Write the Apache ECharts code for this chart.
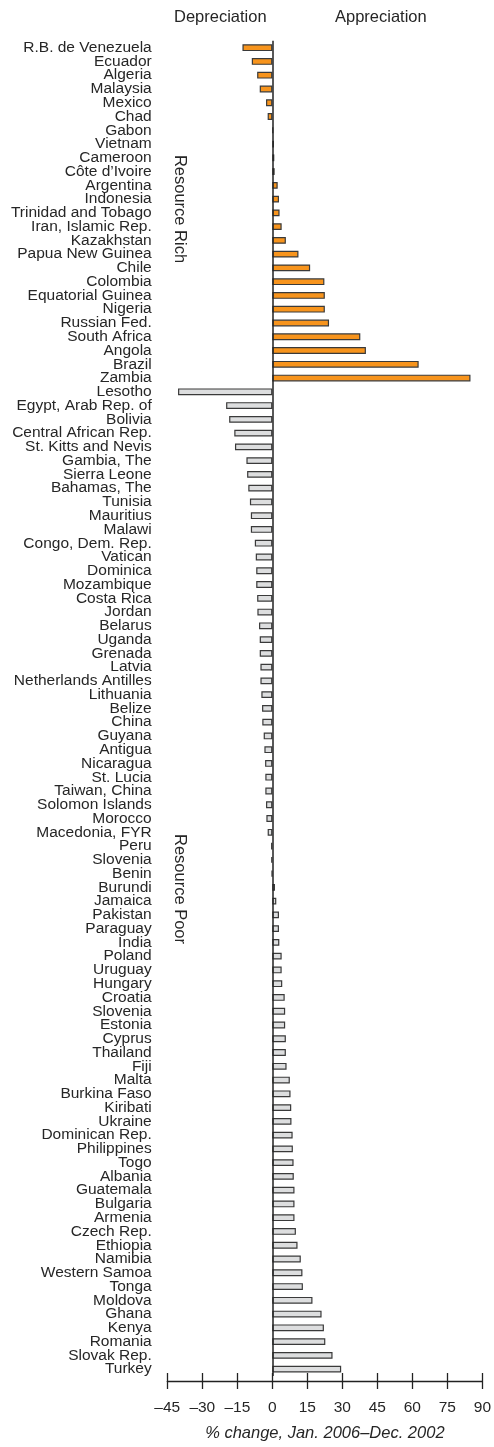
<!DOCTYPE html>
<html><head><meta charset="utf-8">
<script src="https://cdn.jsdelivr.net/npm/echarts@6/dist/echarts.min.js"></script>
<style>html,body{margin:0;padding:0;background:#fff}#c{width:494px;height:1447px}</style>
</head><body><div id="c"></div>
<script>
const richCountries = ["R.B. de Venezuela","Ecuador","Algeria","Malaysia","Mexico","Chad","Gabon","Vietnam","Cameroon","Côte d’Ivoire","Argentina","Indonesia","Trinidad and Tobago","Iran, Islamic Rep.","Kazakhstan","Papua New Guinea","Chile","Colombia","Equatorial Guinea","Nigeria","Russian Fed.","South Africa","Angola","Brazil","Zambia"];
const richValues = [-12.8,-8.8,-6.5,-5.4,-2.7,-2.0,0.4,0.7,0.85,1.0,2.3,2.85,3.1,4.0,5.8,11.2,16.2,22.3,22.5,22.5,24.3,37.7,40.1,62.7,84.9];
const poorCountries = ["Lesotho","Egypt, Arab Rep. of","Bolivia","Central African Rep.","St. Kitts and Nevis","Gambia, The","Sierra Leone","Bahamas, The","Tunisia","Mauritius","Malawi","Congo, Dem. Rep.","Vatican","Dominica","Mozambique","Costa Rica","Jordan","Belarus","Uganda","Grenada","Latvia","Netherlands Antilles","Lithuania","Belize","China","Guyana","Antigua","Nicaragua","St. Lucia","Taiwan, China","Solomon Islands","Morocco","Macedonia, FYR","Peru","Slovenia","Benin","Burundi","Jamaica","Pakistan","Paraguay","India","Poland","Uruguay","Hungary","Croatia","Slovenia","Estonia","Cyprus","Thailand","Fiji","Malta","Burkina Faso","Kiribati","Ukraine","Dominican Rep.","Philippines","Togo","Albania","Guatemala","Bulgaria","Armenia","Czech Rep.","Ethiopia","Namibia","Western Samoa","Tonga","Moldova","Ghana","Kenya","Romania","Slovak Rep.","Turkey"];
const poorValues = [-40.4,-19.8,-18.5,-16.3,-16.0,-11.1,-10.8,-10.3,-9.6,-9.2,-9.2,-7.5,-7.1,-6.9,-6.9,-6.5,-6.4,-5.7,-5.4,-5.4,-5.1,-5.1,-4.7,-4.4,-4.3,-3.7,-3.4,-3.1,-3.0,-3.0,-2.7,-2.55,-2.0,-0.55,-0.5,-0.3,1.15,1.7,2.85,2.85,3.0,4.0,4.0,4.25,5.3,5.5,5.5,5.8,5.8,6.1,7.5,7.8,8.1,8.2,8.7,8.8,9.1,9.2,9.5,9.5,9.5,10.1,10.8,12.2,12.9,13.1,17.2,21.1,22.1,22.7,25.8,29.5];
const xMin = -45, xMax = 90, xStep = 15;
const xAxisTitle = "% change, Jan. 2006–Dec. 2002";
const headerLeft = "Depreciation", headerRight = "Appreciation";
const groupLabels = ["Resource Rich", "Resource Poor"];

const categories = richCountries.concat(poorCountries);
const richData = richValues.concat(poorValues.map(() => '-'));
const poorData = richValues.map(() => '-').concat(poorValues);

const FONT = "'Liberation Sans', Arial, Helvetica, sans-serif";
const TXT = '#262626';
const GRID_TOP = 40.8, GRID_H = 1340.4, AX_OFF = 5;
const tickFmt = v => v < 0 ? '\u2013' + Math.abs(v) : String(v);

const chart = echarts.init(document.getElementById('c'), null, { renderer: 'canvas' });
chart.setOption({
  animation: false,
  backgroundColor: '#fff',
  grid: { left: 167.3, right: 9.3, top: GRID_TOP, height: GRID_H, containLabel: false },
  xAxis: [
    {
      type: 'value', position: 'bottom', offset: AX_OFF,
      min: xMin, max: xMax, interval: xStep,
      axisLine: { show: true, onZero: false, lineStyle: { color: '#222', width: 1.3 } },
      axisTick: { show: true, inside: true, length: 8, lineStyle: { color: '#222', width: 1.3 } },
      axisLabel: { formatter: tickFmt, color: TXT, fontFamily: FONT, fontSize: 15.5, margin: 19 },
      splitLine: { show: false },
      name: xAxisTitle, nameLocation: 'middle', nameGap: 44,
      nameTextStyle: { fontFamily: FONT, fontSize: 16.5, fontStyle: 'italic', color: TXT }
    },
    {
      // mirror axis with the same scale, placed on the same line; draws the outward (downward) half of each tick
      type: 'value', position: 'bottom', offset: AX_OFF,
      min: xMin, max: xMax, interval: xStep,
      axisLine: { show: true, onZero: false, lineStyle: { color: 'rgba(0,0,0,0)', width: 1.3 } },
      axisTick: { show: true, inside: false, length: 8, lineStyle: { color: '#222', width: 1.3 } },
      axisLabel: { show: false },
      splitLine: { show: false }
    }
  ],
  yAxis: {
    type: 'category', data: categories, inverse: true,
    axisLine: { show: false, onZero: false },
    axisTick: { show: false },
    axisLabel: { interval: 0, color: TXT, fontFamily: FONT, fontSize: 15.5, margin: 15.6 },
    splitLine: { show: false }
  },
  series: [
    {
      type: 'bar', name: groupLabels[0], xAxisIndex: 0,
      data: richData, barWidth: 6.8, barGap: '-100%',
      itemStyle: { color: '#F7941D', borderColor: '#3a3a3a', borderWidth: 1.2 },
      markLine: {
        silent: true, symbol: 'none', label: { show: false },
        lineStyle: { color: '#222', width: 1.5, type: 'solid' },
        data: [{ xAxis: 0 }]
      }
    },
    {
      type: 'bar', name: groupLabels[1], xAxisIndex: 1,
      data: poorData, barWidth: 6.8, barGap: '-100%',
      itemStyle: { color: '#DDDEDF', borderColor: '#3a3a3a', borderWidth: 1.2 }
    }
  ],
  graphic: [
    { type: 'text', left: 221 - 47, top: 9, style: { text: headerLeft, font: '16.5px ' + FONT, fill: TXT } },
    { type: 'text', left: 381 - 46, top: 9, style: { text: headerRight, font: '16.5px ' + FONT, fill: TXT } },
    { type: 'text', x: 180, y: 209, rotation: -Math.PI / 2,
      style: { text: groupLabels[0], font: '16.5px ' + FONT, fill: TXT, align: 'center', verticalAlign: 'middle' } },
    { type: 'text', x: 180, y: 889, rotation: -Math.PI / 2,
      style: { text: groupLabels[1], font: '16.5px ' + FONT, fill: TXT, align: 'center', verticalAlign: 'middle' } }
  ]
});
</script>
</body></html>
